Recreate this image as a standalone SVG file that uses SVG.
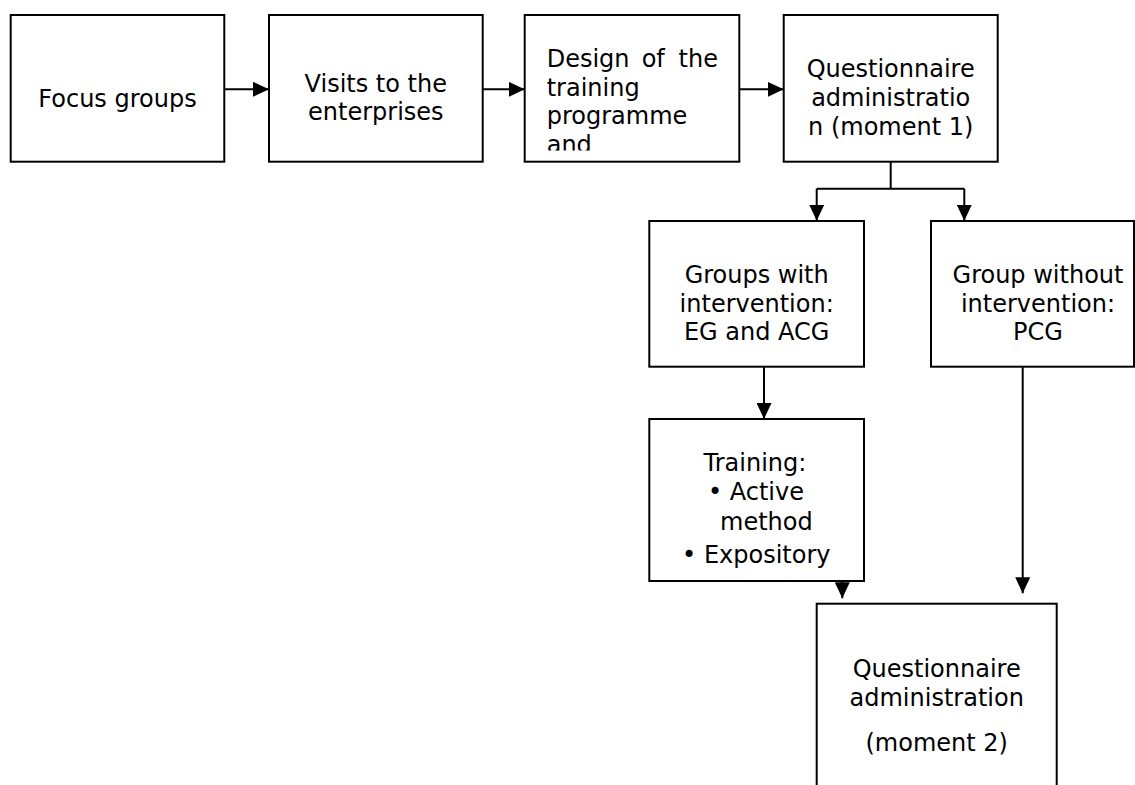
<svg xmlns="http://www.w3.org/2000/svg" width="1135" height="785" viewBox="0 0 1135 785">
  <style>
    .box { fill: #ffffff; stroke: #000000; stroke-width: 2; }
    .lbl { font-family: "DejaVu Sans", Verdana, sans-serif; font-size: 24px; fill: #000000; }
    .c { text-anchor: middle; }
    .conn { fill: none; stroke: #000000; stroke-width: 2; }
  </style>
  <defs>
    <marker id="arr" markerUnits="userSpaceOnUse" markerWidth="16" markerHeight="15" refX="16" refY="7.5" orient="auto">
      <path d="M0,0 L16,7.5 L0,15 z" fill="#000000"/>
    </marker>
    <clipPath id="clip3">
      <rect x="526" y="17" width="212" height="133.5"/>
    </clipPath>
  </defs>
  <rect width="1135" height="785" fill="#ffffff"/>

  <g id="connectors">
    <path class="conn" d="M224.3,89.3 H269" marker-end="url(#arr)"/>
    <path class="conn" d="M482.7,89.3 H524.7" marker-end="url(#arr)"/>
    <path class="conn" d="M739.3,89.3 H783.7" marker-end="url(#arr)"/>
    <path class="conn" d="M890.7,161.7 V188.7 M816.7,188.7 H964.3"/>
    <path class="conn" d="M816.7,188.7 V220.7" marker-end="url(#arr)"/>
    <path class="conn" d="M964.3,188.7 V220.7" marker-end="url(#arr)"/>
    <path class="conn" d="M764,366.7 V419" marker-end="url(#arr)"/>
    <path class="conn" d="M1022.7,366.7 V593.3" marker-end="url(#arr)"/>
    <path class="conn" d="M842.3,576.7 V598.3" marker-end="url(#arr)"/>
  </g>

  <g id="focus-groups">
    <rect class="box" x="10.7" y="15" width="213.6" height="146.7"/>
    <text class="lbl c" x="117.5" y="106.7">Focus groups</text>
  </g>

  <g id="visits">
    <rect class="box" x="269" y="15" width="213.7" height="146.7"/>
    <text class="lbl c" x="375.8" y="91.7">Visits to the</text>
    <text class="lbl c" x="375.8" y="120">enterprises</text>
  </g>

  <g id="design">
    <rect class="box" x="524.7" y="15" width="214.6" height="146.7"/>
    <g clip-path="url(#clip3)">
      <text class="lbl" x="546.7" y="66.7">Design</text>
      <text class="lbl" x="641.7" y="66.7">of</text>
      <text class="lbl" x="718" y="66.7" text-anchor="end">the</text>
      <text class="lbl" x="546.7" y="95.7">training</text>
      <text class="lbl" x="546.7" y="124">programme</text>
      <text class="lbl" x="546.7" y="152.5">and</text>
    </g>
  </g>

  <g id="questionnaire-1">
    <rect class="box" x="783.7" y="15" width="214" height="146.7"/>
    <text class="lbl c" x="890.7" y="77.3">Questionnaire</text>
    <text class="lbl c" x="890.7" y="106">administratio</text>
    <text class="lbl c" x="890.7" y="135">n (moment 1)</text>
  </g>

  <g id="groups-with">
    <rect class="box" x="649.3" y="221" width="214.7" height="145.7"/>
    <text class="lbl c" x="756.7" y="282.7">Groups with</text>
    <text class="lbl c" x="756.7" y="311.7">intervention:</text>
    <text class="lbl c" x="756.7" y="340">EG and ACG</text>
  </g>

  <g id="group-without">
    <rect class="box" x="931" y="221" width="203" height="145.7"/>
    <text class="lbl c" x="1038" y="282.7">Group without</text>
    <text class="lbl c" x="1038" y="311.7">intervention:</text>
    <text class="lbl c" x="1038" y="340">PCG</text>
  </g>

  <g id="training">
    <rect class="box" x="649.3" y="419" width="214.7" height="162"/>
    <text class="lbl c" x="755" y="470.7">Training:</text>
    <text class="lbl c" x="756" y="500">• Active</text>
    <text class="lbl" x="720" y="530">method</text>
    <text class="lbl c" x="756.3" y="562.7">• Expository</text>
  </g>

  <g id="questionnaire-2">
    <rect class="box" x="816.7" y="603.7" width="240" height="200"/>
    <text class="lbl c" x="936.7" y="676.7">Questionnaire</text>
    <text class="lbl c" x="936.7" y="705.7">administration</text>
    <text class="lbl c" x="936.7" y="751">(moment 2)</text>
  </g>
</svg>
